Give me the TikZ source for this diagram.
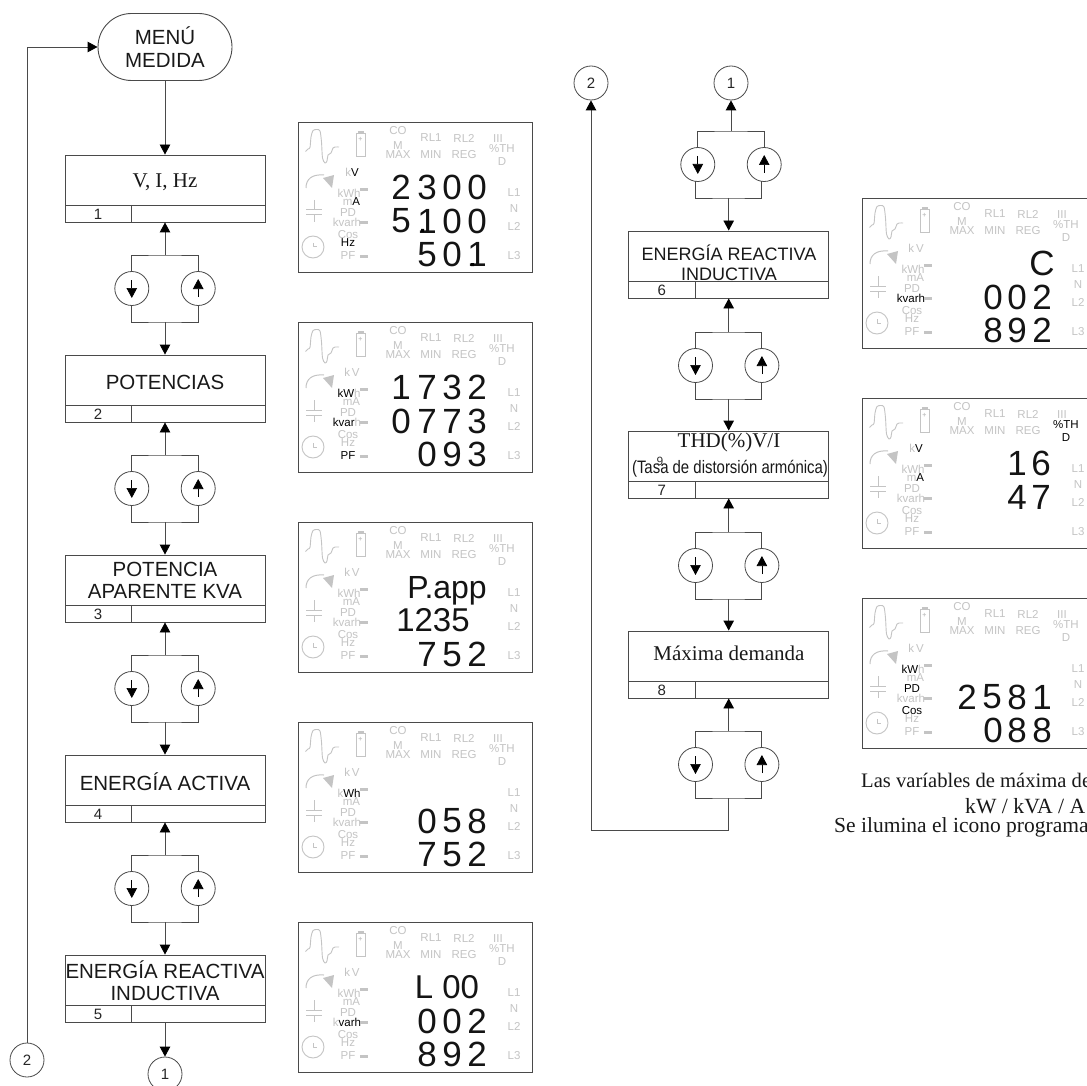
\documentclass[tikz,border=0pt]{standalone}
\usepackage{fontspec}
\usepackage{graphicx}
\setmainfont{Liberation Serif}
\setsansfont{Liberation Sans}
\usetikzlibrary{arrows.meta,shapes.misc}
\definecolor{lcdgray}{HTML}{C4C4C4}
\definecolor{linegray}{HTML}{4A4A4A}
\newcommand\fs[1]{\fontsize{#1}{#1}\selectfont}
\newcommand\bk[1]{\textcolor{black}{#1}}
\tikzset{
  flow/.style={draw=linegray,line width=0.9pt},
  arr/.style={flow,-{Triangle[width=10.5pt,length=10pt,color=black]},shorten >=0pt},
  boxst/.style={draw=linegray,line width=0.9pt,minimum width=200pt,minimum height=67pt,inner sep=0pt,fill=white},
  boxtxt/.style={inner sep=0pt,align=center,text=black!90},
  numst/.style={inner sep=0pt,font=\sffamily\fs{15},text=black!85},
  circ/.style={draw=linegray,line width=0.8pt,circle,minimum size=34pt,inner sep=0pt,font=\sffamily\fs{15},text=black!85,fill=white},
  inarr/.style={draw=black,line width=0.7pt,-{Triangle[width=10.5pt,length=10pt,color=black]}},
  lcdtxt/.style={inner sep=0pt,font=\sffamily\fs{11.5},text=lcdgray},
  dashst/.style={fill=lcdgray,draw=none,minimum width=8pt,minimum height=3pt,inner sep=0pt},
  lcdicon/.style={draw=lcdgray,line width=1pt,line join=round},
  digit/.style={inner sep=0pt,font=\sffamily\fs{35},text=black!92},
  capt/.style={inner sep=0pt,anchor=base west,font=\fs{20.6},text=black!90}
}
% flow box: name, centre x, top y, number
\newcommand\flowbox[4]{%
  \node[boxst] (#1) at (#2,#3+33.5) {};
  \coordinate (#1-dl) at (#2-100,#3+50);
  \coordinate (#1-dr) at (#2+100,#3+50);
  \coordinate (#1-vt) at (#2-33.5,#3+50);
  \coordinate (#1-vb) at (#2-33.5,#3+67);
  \draw[flow] (#1-dl) -- (#1-dr);
  \draw[flow] (#1-vt) -- (#1-vb);
  \node[numst] (#1-num) at (#2-67,#3+59) {#4};
}
% switch: name, centre x, top y, offset of the lower bar
\newcommand\switchblock[4]{%
  \node[circ] (#1-l) at (#2-33.2,#3+33.5) {};
  \node[circ] (#1-r) at (#2+33.2,#3+33.5) {};
  \coordinate (#1-t) at (#2,#3);
  \coordinate (#1-b) at (#2+#4,#3+67);
  \coordinate (#1-bl) at (#2-33.2+#4,#3+50);
  \coordinate (#1-br) at (#2+33.2+#4,#3+50);
  \draw[flow] (#1-l.north) |- (#1-t) -| (#1-r.north);
  \draw[flow] (#1-bl) |- (#1-b) -| (#1-br);
  \coordinate (#1-la) at (#2-33.2,#3+25);
  \coordinate (#1-lb) at (#2-33.2,#3+43);
  \coordinate (#1-ra) at (#2+33.2,#3+42);
  \coordinate (#1-rb) at (#2+33.2,#3+24);
  \draw[inarr] (#1-la) -- (#1-lb);
  \draw[inarr] (#1-ra) -- (#1-rb);
}
% LCD: prefix, x, y, overrides, contents
\newcommand\dg[4]{\node[digit] (#1) at (#2,#3) {#4};}
\newcommand\lcd[5]{%
\begin{scope}[shift={(#2,#3)},name prefix=#1-]
  \def\tV{k\,V}\def\tkWh{kWh}\def\tmA{mA}\def\tPD{PD}\def\tkv{kvarh}\def\tCos{Cos}\def\tHz{Hz}\def\tPF{PF}\def\tTH{\%TH}\def\tD{D}%
  #4%
  \node[draw=linegray,line width=0.9pt,minimum width=234pt,minimum height=150pt,inner sep=0pt,anchor=north west] (frame) at (0,0) {};
  \draw[lcdicon,line width=0.9pt] plot[smooth,tension=0.5] coordinates {(7.5,29.5) (10,27) (12,25.5) (13,15) (15,8.5) (19,7.5) (22,9) (23.5,20) (24.5,36) (27,41) (29,39) (30,33) (33,31) (35,26) (37,25) (41,25)};
  \node[draw=lcdgray,line width=0.9pt,minimum width=9pt,minimum height=23pt,inner sep=0pt] (batt) at (62.5,23) {};
  \node[draw=lcdgray,fill=lcdgray,minimum width=5pt,minimum height=2pt,inner sep=0pt] (battcap) at (62.5,10.5) {};
  \node[inner sep=0pt,font=\sffamily\bfseries\fs{7},text=lcdgray] (battplus) at (62.5,17) {+};
  \draw[lcdicon] (8,66) .. controls (8,57) and (14,52) .. (26,53);
  \fill[lcdgray] (36,53) -- (25,56) -- (34,66) -- cycle;
  \draw[lcdicon] (8,88) -- (24,88) (8,93) -- (24,93) (16,78) -- (16,88) (16,93) -- (16,100);
  \node[draw=lcdgray,line width=0.9pt,circle,minimum size=22pt,inner sep=0pt] (clock) at (15,125) {};
  \draw[lcdicon] (15,121) -- (15,125) -- (19,125);
  \node[lcdtxt] (co) at (100,9) {CO};
  \node[lcdtxt] (m) at (100,23.5) {M};
  \node[lcdtxt] (max) at (100,33) {MAX};
  \node[lcdtxt] (rl1) at (133,16) {RL1};
  \node[lcdtxt] (min) at (133,33) {MIN};
  \node[lcdtxt] (rl2) at (166,16) {RL2};
  \node[lcdtxt] (reg) at (166,33) {REG};
  \node[lcdtxt] (iii) at (200,17) {III};
  \node[lcdtxt] (th) at (204,26.5) {\tTH};
  \node[lcdtxt] (d) at (204,40) {\tD};
  \node[lcdtxt] (kv) at (54,50.5) {\tV};
  \node[lcdtxt] (kwh) at (51,71) {\tkWh};
  \node[lcdtxt] (ma) at (53.5,79.5) {\tmA};
  \node[lcdtxt] (pd) at (50,91) {\tPD};
  \node[lcdtxt] (kvarh) at (49,100.5) {\tkv};
  \node[lcdtxt] (cos) at (50,112.5) {\tCos};
  \node[lcdtxt] (hz) at (50,121) {\tHz};
  \node[lcdtxt] (pf) at (50,133.5) {\tPF};
  \node[dashst] (da) at (66,67.5) {};
  \node[dashst] (db) at (66,100.5) {};
  \node[dashst] (dc) at (66,134) {};
  \node[lcdtxt] (l1) at (216,71) {L1};
  \node[lcdtxt] (n) at (216,87) {N};
  \node[lcdtxt] (l2) at (216,104) {L2};
  \node[lcdtxt] (l3) at (216,133.5) {L3};
  #5%
\end{scope}}
\begin{document}
\begin{tikzpicture}[x=1pt,y=-1pt]
\path[use as bounding box,fill=white] (0,0) rectangle (1087,1086);
\clip (0,0) rectangle (1087,1086);

% left column
\node[rounded rectangle,draw=linegray,line width=0.9pt,minimum width=134pt,minimum height=67pt,inner sep=0pt,align=center,font=\sffamily\fontsize{20.5}{22.5}\selectfont,text=black!90] (start) at (165,47) {MENÚ\\MEDIDA};
\flowbox{b1}{165}{155}{1}
\flowbox{b2}{165}{355}{2}
\flowbox{b3}{165}{555}{3}
\flowbox{b4}{165}{755}{4}
\flowbox{b5}{165}{955}{5}
\node[boxtxt,font=\fs{21}] (b1t) at (165,182) {V, I, Hz};
\node[boxtxt,font=\sffamily\fs{20.5}] (b2t) at (165,382) {POTENCIAS};
\node[boxtxt,font=\sffamily\fontsize{20.5}{22}\selectfont] (b3t) at (165,580.5) {POTENCIA\\APARENTE KVA};
\node[boxtxt,font=\sffamily\fs{20.5}] (b4t) at (165,782) {ENERGÍA ACTIVA};
\node[boxtxt,font=\sffamily\fontsize{20.5}{22}\selectfont] (b5t) at (165,981) {ENERGÍA REACTIVA\\INDUCTIVA};
\switchblock{s1}{165}{255}{0}
\switchblock{s2}{165}{455}{0}
\switchblock{s3}{165}{655}{0}
\switchblock{s4}{165}{855}{0}
\node[circ] (cl2) at (27,1060) {2};
\node[circ] (cl1) at (165,1074) {1};
\draw[arr] (start.south) -- (b1.north);
\draw[arr] (s1-t) -- (b1.south);
\draw[arr] (s1-b) -- (b2.north);
\draw[arr] (s2-t) -- (b2.south);
\draw[arr] (s2-b) -- (b3.north);
\draw[arr] (s3-t) -- (b3.south);
\draw[arr] (s3-b) -- (b4.north);
\draw[arr] (s4-t) -- (b4.south);
\draw[arr] (s4-b) -- (b5.north);
\draw[arr] (b5.south) -- (cl1.north);
\draw[arr] (cl2.north) |- (start.west);

% right column
\node[circ] (cr2) at (591,83) {2};
\node[circ] (cr1) at (731,83) {1};
\flowbox{b6}{728.7}{231}{6}
\flowbox{b7}{728.7}{431}{7}
\flowbox{b8}{728.7}{631}{8}
\node[boxtxt,font=\sffamily\fontsize{18}{20.5}\selectfont] (b6t) at (729,263) {ENERGÍA REACTIVA\\INDUCTIVA};
\node[boxtxt,font=\fs{21}] (b7t) at (729,442) {THD(\%)V/I};
\node[boxtxt,font=\sffamily\fs{18}] (b7s) at (730,469) {\scalebox{0.83}[1]{(Tasa de distorsión armónica)}};
\node[inner sep=0pt,font=\sffamily\fs{12},text=black!80] (b7n) at (660,461) {9};
\node[boxtxt,font=\fs{21}] (b8t) at (729,653) {Máxima demanda};
\switchblock{s5}{731}{131}{-2.3}
\switchblock{s6}{728.7}{332}{0}
\switchblock{s7}{728.7}{532}{0}
\switchblock{s8}{728.7}{731}{0}
\coordinate (corner) at (728.7,830);
\draw[arr] (s5-t) -- (cr1.south);
\draw[arr] (s5-b) -- (b6.north);
\draw[arr] (s6-t) -- (b6.south);
\draw[arr] (s6-b) -- (b7.north);
\draw[arr] (s7-t) -- (b7.south);
\draw[arr] (s7-b) -- (b8.north);
\draw[arr] (s8-t) -- (b8.south);
\draw[arr] (s8-b) -- (corner) -| (cr2.south);

% left displays
\lcd{p1}{298}{122}{\def\tV{k\bk{V}}\def\tmA{m\bk{A}}\def\tHz{\bk{Hz}}}{%
  \dg{a1}{103}{65}{2}\dg{a2}{129}{65}{3}\dg{a3}{154}{65}{0}\dg{a4}{179}{65}{0}
  \dg{b1}{103}{99}{5}\dg{b2}{129}{99}{1}\dg{b3}{154}{99}{0}\dg{b4}{179}{99}{0}
  \dg{c2}{129}{132.5}{5}\dg{c3}{154}{132.5}{0}\dg{c4}{179}{132.5}{1}
  \fill[black] (123,107) rectangle (126,110) (173,141) rectangle (176,144);}
\lcd{p2}{298}{322}{\def\tkWh{\bk{kW}h}\def\tkv{\bk{kvar}h}\def\tPF{\bk{PF}}}{%
  \dg{a1}{103}{65}{1}\dg{a2}{129}{65}{7}\dg{a3}{154}{65}{3}\dg{a4}{179}{65}{2}
  \dg{b1}{103}{99}{0}\dg{b2}{129}{99}{7}\dg{b3}{154}{99}{7}\dg{b4}{179}{99}{3}
  \dg{c2}{129}{132.5}{0}\dg{c3}{154}{132.5}{9}\dg{c4}{179}{132.5}{3}}
\lcd{p3}{298}{522}{}{%
  \node[digit,font=\sffamily\fs{32}] (papp) at (149,69) {P.app};
  \node[digit,font=\sffamily\fs{33}] (val) at (135,98) {1235};
  \dg{c2}{129}{132.5}{7}\dg{c3}{154}{132.5}{5}\dg{c4}{179}{132.5}{2}}
\lcd{p4}{298}{722}{\def\tkWh{k\bk{Wh}}}{%
  \dg{b2}{129}{99}{0}\dg{b3}{154}{99}{5}\dg{b4}{179}{99}{8}
  \dg{c2}{129}{132.5}{7}\dg{c3}{154}{132.5}{5}\dg{c4}{179}{132.5}{2}}
\lcd{p5}{298}{922}{\def\tkv{k\bk{varh}}}{%
  \node[digit,font=\sffamily\fs{33}] (loo) at (149,65) {L 00};
  \dg{b2}{129}{99}{0}\dg{b3}{154}{99}{0}\dg{b4}{179}{99}{2}
  \dg{c2}{129}{132.5}{8}\dg{c3}{154}{132.5}{9}\dg{c4}{179}{132.5}{2}}

% right displays
\lcd{pa}{862}{198}{\def\tkv{\bk{kvarh}}}{%
  \dg{a4}{180}{65}{C}
  \dg{b2}{131}{99}{0}\dg{b3}{155}{99}{0}\dg{b4}{180}{99}{2}
  \dg{c2}{131}{132.5}{8}\dg{c3}{155}{132.5}{9}\dg{c4}{180}{132.5}{2}}
\lcd{pb}{862}{398}{\def\tV{k\bk{V}}\def\tmA{m\bk{A}}\def\tTH{\bk{\%TH}}\def\tD{\bk{D}}}{%
  \dg{a3}{155}{65}{1}\dg{a4}{179}{65}{6}
  \dg{b3}{155}{99}{4}\dg{b4}{179}{99}{7}}
\lcd{pc}{862}{598}{\def\tkWh{\bk{kW}h}\def\tPD{\bk{PD}}\def\tCos{\bk{Cos}}}{%
  \dg{b1}{105}{99}{2}\dg{b2}{130}{99}{5}\dg{b3}{155}{99}{8}\dg{b4}{180}{99}{1}
  \dg{c2}{131}{132.5}{0}\dg{c3}{155}{132.5}{8}\dg{c4}{180}{132.5}{8}}

% caption
\node[capt] (cap1) at (861,787) {Las varíables de máxima de};
\node[capt,font=\fs{21.7}] (cap2) at (965,813) {kW / kVA / A};
\node[capt,font=\fs{21.5}] (cap3) at (834,832) {Se ilumina el icono programa};
\end{tikzpicture}
\end{document}
